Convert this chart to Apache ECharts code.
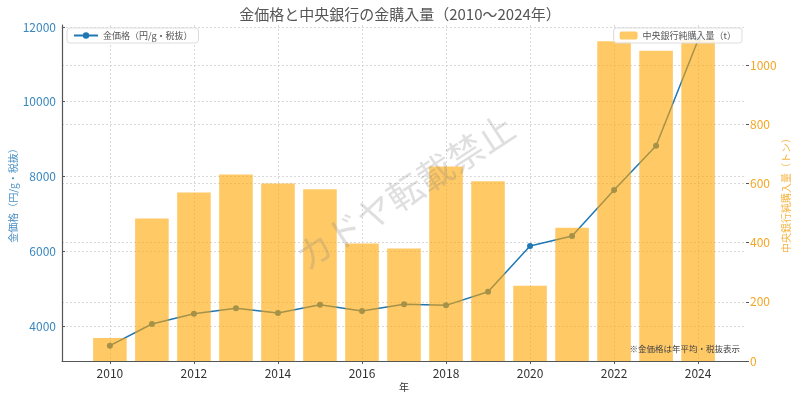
<!DOCTYPE html>
<html>
<head>
<meta charset="utf-8">
<script src="https://cdn.jsdelivr.net/npm/echarts@6/dist/echarts.min.js"></script>
<style>
  html, body { margin: 0; padding: 0; background: #fff; }
  #chart { width: 800px; height: 397px; }
</style>
</head>
<body>
<div id="chart"></div>
<script>
// データ
var years = [2010, 2011, 2012, 2013, 2014, 2015, 2016, 2017, 2018, 2019, 2020, 2021, 2022, 2023, 2024];
var goldPrice = [3475, 4053, 4330, 4473, 4347, 4570, 4400, 4580, 4553, 4917, 6140, 6406, 7636, 8820, 11650];
var cbPurchase = [78, 481, 569, 630, 600, 580, 397, 380, 657, 607, 254, 450, 1080, 1048, 1085];
var xTicks = [2010, 2012, 2014, 2016, 2018, 2020, 2022, 2024];
var leftTicks = [4000, 6000, 8000, 10000, 12000];
var rightTicks = [0, 200, 400, 600, 800, 1000];

var FONT = '"Noto Sans CJK JP", "DejaVu Sans", sans-serif';
var chart = echarts.init(document.getElementById('chart'));

var priceData = years.map(function (y, i) { return [y, goldPrice[i]]; });
var buyData = years.map(function (y, i) { return [y, cbPurchase[i]]; });

var gridLine = { show: true, lineStyle: { color: '#d0d0d0', type: [2, 2], width: 0.8 } };
var plain = function (v) { return String(v); };

chart.setOption({
  animation: false,
  textStyle: { fontFamily: FONT },
  title: {
    text: '金価格と中央銀行の金購入量（2010〜2024年）',
    left: 'center',
    top: 2,
    textStyle: { fontSize: 15, fontWeight: 'normal', color: '#555', fontFamily: FONT }
  },
  grid: { left: 62, right: 54, top: 25, bottom: 36, outerBoundsMode: 'none', containLabel: false },
  legend: [
    {
      data: ['金価格（円/g・税抜）'],
      left: 67, top: 28,
      padding: [3, 6, 3, 6],
      itemWidth: 24, itemHeight: 8,
      backgroundColor: 'rgba(255,255,255,0.85)',
      borderColor: '#ddd', borderWidth: 1, borderRadius: 3,
      textStyle: { fontSize: 9, color: '#555', fontFamily: FONT }
    },
    {
      data: ['中央銀行純購入量（t）'],
      right: 58, top: 28,
      padding: [3, 6, 3, 6],
      itemWidth: 18, itemHeight: 8,
      backgroundColor: 'rgba(255,255,255,0.85)',
      borderColor: '#ddd', borderWidth: 1, borderRadius: 3,
      textStyle: { fontSize: 9, color: '#555', fontFamily: FONT }
    }
  ],
  xAxis: {
    type: 'value',
    min: 2008.86, max: 2025.14,
    name: '年',
    nameLocation: 'middle',
    nameGap: 21,
    nameMoveOverlap: false,
    nameTextStyle: { fontSize: 10, color: '#333' },
    axisLine: { show: true, lineStyle: { color: '#555', width: 1.2 } },
    axisTick: { show: true, customValues: xTicks, length: 3, lineStyle: { color: '#555' } },
    axisLabel: { customValues: xTicks, fontSize: 12, color: '#333', margin: 6, formatter: plain },
    splitLine: gridLine
  },
  yAxis: [
    {
      type: 'value',
      position: 'left',
      min: 3064, max: 12053,
      name: '金価格（円/g・税抜）',
      nameLocation: 'middle',
      nameGap: 44,
      nameMoveOverlap: false,
      nameTextStyle: { fontSize: 10, color: '#4a90c4' },
      axisLine: { show: true, lineStyle: { color: '#555', width: 1.2 } },
      axisTick: { show: true, customValues: leftTicks, length: 3, inside: true, lineStyle: { color: '#555' } },
      axisLabel: { customValues: leftTicks, fontSize: 12, color: '#3a87c0', margin: 6, formatter: plain },
      splitLine: gridLine
    },
    {
      type: 'value',
      position: 'right',
      min: 0, max: 1135,
      name: '中央銀行純購入量（トン）',
      nameLocation: 'middle',
      nameGap: 35,
      nameMoveOverlap: false,
      nameTextStyle: { fontSize: 10, color: '#f7b442' },
      axisLine: { show: false },
      axisTick: { show: true, customValues: rightTicks, length: 3, lineStyle: { color: '#555' } },
      axisLabel: { customValues: rightTicks, fontSize: 12, color: '#f5a623', margin: 4, formatter: plain },
      splitLine: gridLine
    }
  ],
  series: [
    {
      name: '金価格（円/g・税抜）',
      type: 'line',
      yAxisIndex: 0,
      data: priceData,
      z: 2,
      symbol: 'circle',
      symbolSize: 6,
      itemStyle: { color: '#1f77b4' },
      lineStyle: { color: '#1f77b4', width: 1.5 }
    },
    {
      name: '中央銀行純購入量（t）',
      type: 'bar',
      yAxisIndex: 1,
      data: buyData,
      z: 3,
      barWidth: 33.6,
      itemStyle: { color: 'rgba(255,165,0,0.6)' }
    }
  ],
  graphic: [
    {
      type: 'text',
      x: 740, y: 349,
      z: 100,
      style: {
        text: '※金価格は年平均・税抜表示',
        font: '8.5px ' + FONT,
        fill: '#444',
        align: 'right',
        verticalAlign: 'middle'
      }
    },
    {
      type: 'text',
      x: 405, y: 192,
      rotation: 33 * Math.PI / 180,
      z: 100,
      style: {
        text: 'カドヤ転載禁止',
        font: '36px ' + FONT,
        fill: 'rgba(128,128,128,0.25)',
        align: 'center',
        verticalAlign: 'middle'
      }
    }
  ]
});
</script>
</body>
</html>
